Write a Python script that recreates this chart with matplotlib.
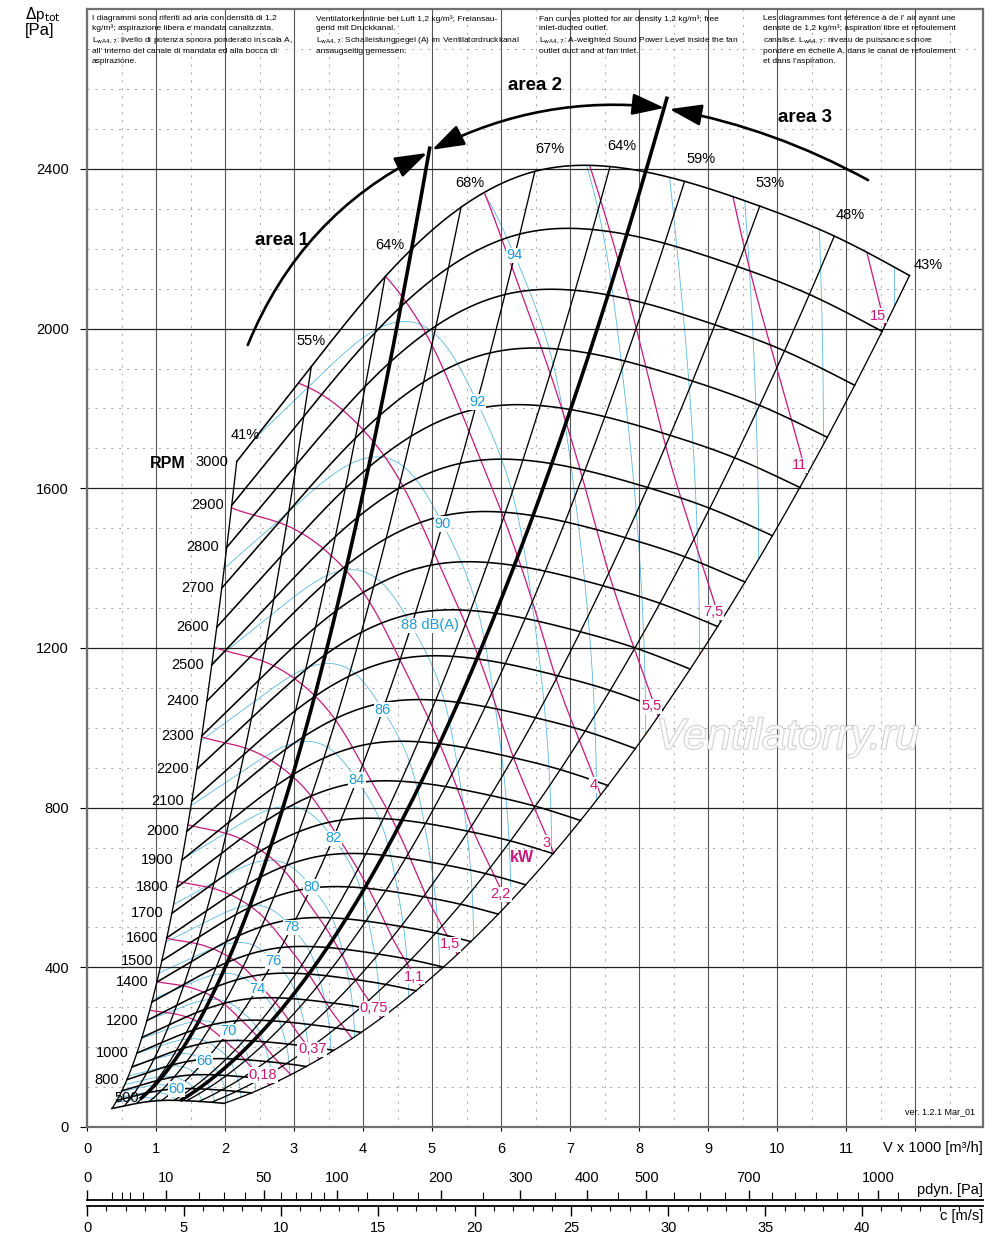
import numpy as np
import matplotlib
matplotlib.use("Agg")
import matplotlib.pyplot as plt
import matplotlib.patheffects as pe
from matplotlib.patches import FancyArrowPatch

plt.rcParams['font.family'] = ['Liberation Sans', 'DejaVu Sans']

# ---- values ----
# crossings of the efficiency lines with the 3000 RPM curve
eff_V = np.array([2.17, 3.25, 4.32, 5.42, 6.49, 7.58, 8.66, 9.75, 10.83, 11.92])
eff_p = np.array([1667, 1905, 2130, 2304, 2394, 2406, 2369, 2307, 2232, 2133])
eff_pct = np.array([41, 55, 64, 68, 67, 64, 59, 53, 48, 43])
# LwA at 3000 RPM on each efficiency line
sound_3000 = np.array([91.9, 92.3, 92.7, 93.6, 95.0, 96.5, 98.4, 100.4, 102.4, 104.4])

rpm = list(range(500, 3001, 100))
rpm_labelled = [500, 800, 1000, 1200] + list(range(1400, 3001, 100))

power_levels = [0.18, 0.25, 0.37, 0.55, 0.75, 1.1, 1.5, 2.2, 3, 4, 5.5, 7.5, 11, 15]
power_labelled = [0.18, 0.37, 0.75, 1.1, 1.5, 2.2, 3, 4, 5.5, 7.5, 11, 15]
sound_levels = list(range(56, 105, 2))
sound_labelled = [60, 66, 70, 74, 76, 78, 80, 82, 84, 86, 88, 90, 92, 94]

# thick area boundaries
thick1_V = [0.77, 1.95, 3.47, 4.13, 4.97]
thick1_p = [60, 401, 1195, 1666, 2472]
thick2_V = [1.35, 4.0, 5.65, 7.0, 8.41]
thick2_p = [64, 598, 1170, 1788, 2585]

# bottom scales
pdyn_major = [0, 10, 50, 100, 200, 300, 400, 500, 700, 1000]
pdyn_minor = [1, 2, 3, 5, 20, 30, 40, 60, 70, 80, 90, 125, 150, 175, 250, 350, 450,
              550, 600, 650, 750, 800, 850, 900, 950, 1050]
c_major = list(range(0, 41, 5))
c_minor = list(range(0, 46))

BLACK = 'black'
MAG = '#c8177c'
CYAN_L = '#5ab9e3'
CYAN_T = '#1f9ad6'


def spline(xk, yk, x):
    # natural cubic spline
    xk = np.asarray(xk, float); yk = np.asarray(yk, float)
    n = len(xk); h = np.diff(xk)
    A = np.zeros((n, n)); b = np.zeros(n)
    A[0, 0] = A[-1, -1] = 1
    for i in range(1, n - 1):
        A[i, i - 1] = h[i - 1]; A[i, i] = 2 * (h[i - 1] + h[i]); A[i, i + 1] = h[i]
        b[i] = 6 * ((yk[i + 1] - yk[i]) / h[i] - (yk[i] - yk[i - 1]) / h[i - 1])
    M = np.linalg.solve(A, b)
    j = np.clip(np.searchsorted(xk, x) - 1, 0, n - 2)
    t = x - xk[j]; hj = h[j]
    c = (yk[j + 1] - yk[j]) / hj - hj * (2 * M[j] + M[j + 1]) / 6
    return yk[j] + c * t + M[j] / 2 * t ** 2 + (M[j + 1] - M[j]) / (6 * hj) * t ** 3


V0 = np.linspace(eff_V[0], eff_V[-1], 3000)
f0 = spline(eff_V, eff_p, V0)
eta0 = spline(eff_V, eff_pct, V0)
L0 = spline(eff_V, sound_3000, V0)
P0 = V0 / 3.6 * f0 / (eta0 / 100) / 1000
s_min = rpm[0] / 3000

fig = plt.figure(figsize=(10, 12.59), dpi=100)
ax = fig.add_axes([0.087, 1 - 1127 / 1259, 0.896, 1117.7 / 1259])
ax.set_xlim(0, 12.985)
ax.set_ylim(0, 2800)

# grid
ax.set_xticks(range(13), labels=[str(i) for i in range(12)] + [''])
ax.set_xticks(np.arange(0.5, 13, 1), minor=True)
ax.set_yticks(range(0, 2401, 400))
ax.set_yticks(range(100, 2800, 100), minor=True)
ax.grid(which='major', axis='x', color='#555555', lw=0.8, zorder=0)
ax.grid(which='major', axis='y', color='#222222', lw=0.9, zorder=0)
ax.grid(which='minor', color='#9a9a9a', lw=0.6, linestyle=(0, (2.5, 7)), zorder=0)
ax.tick_params(which='minor', length=0)
ax.tick_params(axis='y', which='major', direction='out', length=5, width=0.8, pad=8, labelsize=10.5)
ax.tick_params(axis='x', which='major', direction='out', length=3, width=0.8, pad=8, labelsize=10.5)
for sp in ax.spines.values():
    sp.set_color('#707070')
    sp.set_linewidth(1.6)

# fan curves
for n in rpm:
    s = n / 3000
    ax.plot(s * V0, s ** 2 * f0, color=BLACK, lw=1.15, zorder=3)

# efficiency lines
s_line = np.linspace(s_min, 1, 200)
for v, p in zip(eff_V, eff_p):
    ax.plot(s_line * v, s_line ** 2 * p, color=BLACK, lw=0.95, zorder=3)

# power lines
for P in power_levels:
    s = (P / P0) ** (1 / 3)
    ok = (s >= s_min) & (s <= 1)
    ax.plot(np.where(ok, s * V0, np.nan), np.where(ok, s ** 2 * f0, np.nan),
            color=MAG, lw=0.9, zorder=2)
    if P in power_labelled:
        se = (P / P0[-1]) ** (1 / 3)
        txt = ('%g' % P).replace('.', ',')
        ax.annotate(txt, (se * V0[-1], se ** 2 * f0[-1]), xytext=(-7, 10),
                    textcoords='offset pixels', ha='center', va='center',
                    color=MAG, fontsize=10.5, zorder=8,
                    bbox=dict(facecolor='white', edgecolor='none', pad=0.4))

# sound lines
for L in sound_levels:
    s = 10 ** ((L - L0) / 50)
    ok = (s >= s_min) & (s <= 1)
    ax.plot(np.where(ok, s * V0, np.nan), np.where(ok, s ** 2 * f0, np.nan),
            color=CYAN_L, lw=0.6, zorder=1)
for L in sound_labelled:
    s = 10 ** ((L - sound_3000[4]) / 50)
    pos = (s * eff_V[4], s ** 2 * eff_p[4])
    if L == 88:
        ax.annotate('88 dB(A)', pos, xytext=(-10, 0), textcoords='offset pixels',
                    ha='left', va='center', color=CYAN_T, fontsize=10.5, zorder=6,
                    bbox=dict(facecolor='white', edgecolor='none', pad=0.4))
    else:
        ax.annotate(str(L), pos, ha='center', va='center', color=CYAN_T,
                    fontsize=10.5, zorder=6,
                    bbox=dict(facecolor='white', edgecolor='none', pad=0.4))

# thick boundaries between the areas
for tv, tp in [(thick1_V, thick1_p), (thick2_V, thick2_p)]:
    cf = np.polyfit(tv, tp, 2)
    vv = np.linspace(tv[0], tv[-1], 200)
    ax.plot(vv, np.polyval(cf, vv), color=BLACK, lw=2.6, zorder=4, solid_capstyle='butt')

# efficiency labels
eff_off = [(8, 27), (0, 26), (5, 32), (9, 24), (15, 22), (12, 21), (16, 22), (10, 23), (16, 21), (19, 11)]
for v, p, e, off in zip(eff_V, eff_p, eff_pct, eff_off):
    ax.annotate('%d%%' % e, (v, p), xytext=off, textcoords='offset pixels',
                ha='center', va='center', fontsize=10.5, zorder=6)

# rpm labels
for n in rpm_labelled:
    s = n / 3000
    pt = (s * eff_V[0], s ** 2 * eff_p[0])
    if n == 500:
        ax.annotate(str(n), pt, xytext=(15, 11), textcoords='offset pixels',
                    ha='center', va='center', fontsize=10.5, zorder=6)
    else:
        ax.annotate(str(n), pt, xytext=(-8, 0), textcoords='offset pixels',
                    ha='right', va='center', fontsize=10.5, zorder=6)
ax.text(1.17, 1663, 'RPM', fontsize=11.5, fontweight='bold', ha='center', va='center')
ax.text(6.30, 676, 'kW', fontsize=11.5, fontweight='bold', color=MAG, ha='center',
        va='center', zorder=6)

# area arrows
arrows = [((2.33, 1959), (4.93, 2440), 'arc3,rad=-0.19', '-|>'),
          ((5.0, 2448), (8.37, 2553), 'arc3,rad=-0.15', '<|-|>'),
          ((11.32, 2372), (8.44, 2550), 'arc3,rad=0.08', '-|>')]
for a, b, cs, st in arrows:
    ax.add_patch(FancyArrowPatch(a, b, connectionstyle=cs,
                                 arrowstyle=st + ',head_length=0.9,head_width=0.3',
                                 mutation_scale=22, lw=1.9, color=BLACK,
                                 shrinkA=0, shrinkB=0, zorder=5))
ax.text(2.83, 2222, 'area 1', fontsize=13.5, fontweight='bold', ha='center', va='center')
ax.text(6.49, 2610, 'area 2', fontsize=13.5, fontweight='bold', ha='center', va='center')
ax.text(10.40, 2528, 'area 3', fontsize=13.5, fontweight='bold', ha='center', va='center')

# notes
notes = [
    (0.072, "I diagrammi sono riferiti ad aria con densità di 1,2\n"
            "kg/m³; aspirazione libera e mandata canalizzata.\n"
            "L$_{\\mathrm{wA4,7}}$: livello di potenza sonora ponderato in scala A,\n"
            "all' interno del canale di mandata ed alla bocca di\n"
            "aspirazione."),
    (3.32, "Ventilatorkennlinie bei Luft 1,2 kg/m³; Freiansau-\n"
           "gend mit Druckkanal.\n"
           "L$_{\\mathrm{wA4,7}}$: Schalleistungpegel (A) im Ventilatordruckkanal\n"
           "ansaugseitig gemessen."),
    (6.55, "Fan curves plotted for air density 1,2 kg/m³; free\n"
           "inlet-ducted outlet.\n"
           "L$_{\\mathrm{wA4,7}}$: A-weighted Sound Power Level inside the fan\n"
           "outlet duct and at fan inlet."),
    (9.80, "Les diagrammes font référence à de l' air ayant une\n"
           "densité de 1,2 kg/m³; aspiration libre et refoulement\n"
           "canalisé. L$_{\\mathrm{wA4,7}}$: niveau de puissance sonore\n"
           "pondéré en échelle A, dans le canal de refoulement\n"
           "et dans l'aspiration."),
]
for x, t in notes:
    ax.text(x, 2786, t, fontsize=6, va='top', ha='left', linespacing=1.45, zorder=6)

ax.text(12.87, 38, 'ver. 1.2.1 Mar_01', fontsize=6.5, ha='right', va='center')
ax.text(10.15, 975, 'Ventilatorry.ru', fontsize=31, style='italic', color='white',
        ha='center', va='center', alpha=0.85, zorder=7,
        path_effects=[pe.withStroke(linewidth=1.3, foreground='#c4c4c4')])

ax.annotate('V x 1000 [m³/h]', (1, 0), xycoords='axes fraction', xytext=(0, -21),
            textcoords='offset pixels', ha='right', va='center', fontsize=10.5)
fig.text(0.025, 0.9885, r'$\Delta$p$_{\mathrm{tot}}$', fontsize=11, ha='left', va='center')
fig.text(0.025, 0.9755, '[Pa]', fontsize=12, ha='left', va='center')

# dynamic pressure scale
c_max = 46.24
axp = fig.add_axes([0.087, 1 - 1200 / 1259 - 0.001, 0.896, 0.001])
axp.set_xscale('function', functions=(lambda p: np.sqrt(np.clip(p, 0, None) / 0.6),
                                      lambda c: 0.6 * np.asarray(c) ** 2))
axp.set_xlim(0, 0.6 * c_max ** 2)
axp.set_yticks([])
for k in ['left', 'right', 'bottom']:
    axp.spines[k].set_visible(False)
axp.spines['top'].set_linewidth(1.3)
axp.xaxis.tick_top()
axp.set_xticks(pdyn_major, labels=[str(v) for v in pdyn_major])
axp.set_xticks(pdyn_minor, minor=True)
axp.tick_params(which='major', direction='out', length=7.5, width=1, pad=3, labelsize=10.5)
axp.tick_params(which='minor', direction='out', length=5.5, width=0.8)
axp.patch.set_visible(False)
fig.text(0.983, 1 - 1190 / 1259, 'pdyn. [Pa]', fontsize=10.5, ha='right', va='center')

# velocity scale
axc = fig.add_axes([0.087, 1 - 1206 / 1259, 0.896, 0.001])
axc.set_xlim(0, c_max)
axc.set_yticks([])
for k in ['left', 'right', 'top']:
    axc.spines[k].set_visible(False)
axc.spines['bottom'].set_linewidth(1.3)
axc.set_xticks(c_major, labels=[str(v) for v in c_major])
axc.set_xticks(c_minor, minor=True)
axc.tick_params(which='major', direction='out', length=7.5, width=1, pad=3, labelsize=10.5)
axc.tick_params(which='minor', direction='out', length=3.5, width=0.8)
axc.patch.set_visible(False)
fig.text(0.983, 1 - 1216 / 1259, 'c [m/s]', fontsize=10.5, ha='right', va='center')

fig.savefig('out.png', dpi=100)
